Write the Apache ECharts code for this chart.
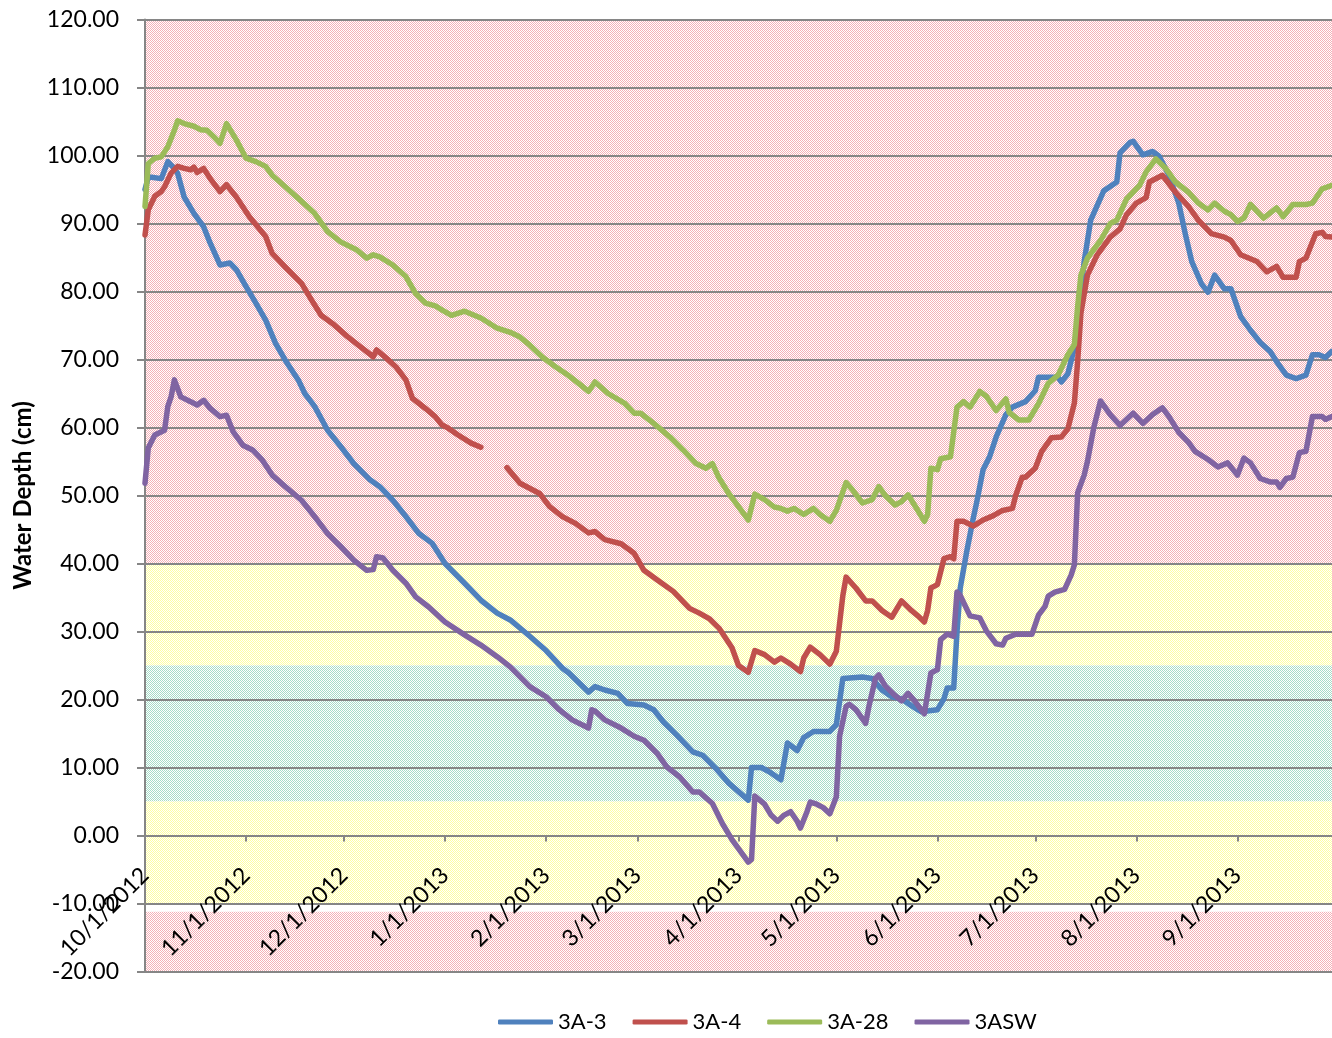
<!DOCTYPE html>
<html>
<head>
<meta charset="utf-8">
<script src="https://cdn.jsdelivr.net/npm/echarts@6/dist/echarts.min.js"></script>
<style>
html,body{margin:0;padding:0;background:#fff;}
#chart{width:1332px;height:1038px;}
</style>
</head>
<body>
<div id="chart"></div>
<script>
// ---- data (day offsets from 10/1/2012, water depth in cm) ----
const startYear = 2012, startMonth = 9, startDay = 1;
const endDayOffset = 364;

const seriesNames = ['3A-3', '3A-4', '3A-28', '3ASW'];

const days3A3 = [0,1,2,5,7,9,10,12,15,18,20,23,26,28,31,34,37,40,43,47,49,52,56,60,64,69,72,76,80,84,88,92,98,103,108,112,118,123,128,130,136,138,141,145,148,153,156,159,163,168,171,175,179,185,186,189,192,195,197,200,202,205,210,212,214,217,220,223,226,229,232,235,238,243,245,246,248,249,250,252,254,255,257,259,261,264,266,270,273,274,280,281,283,285,287,288,290,294,298,299,302,303,306,309,311,314,317,319,321,324,326,328,331,333,336,339,342,345,347,350,353,356,358,360,362,364];
const depth3A3 = [95,96.8,96.8,96.6,99.1,98.1,97.4,93.9,91.5,89.5,87.1,83.9,84.2,83.2,80.7,78.3,75.8,72.4,69.9,67.0,65.0,63.1,59.6,57.2,54.7,52.3,51.3,49.3,46.9,44.4,43.0,40.0,37.1,34.6,32.7,31.7,29.3,27.2,24.6,23.9,21.1,21.9,21.4,20.9,19.4,19.2,18.5,16.7,14.8,12.3,11.8,9.9,7.7,5.2,10.0,10.0,9.2,8.2,13.6,12.5,14.4,15.3,15.3,16.3,23.1,23.2,23.3,23.1,21.4,20.4,20.1,19.1,18.2,18.5,20.1,21.7,21.7,29.9,36.4,41.8,46.7,48.9,53.8,55.7,58.6,61.9,63.0,63.8,65.4,67.4,67.4,66.7,67.9,71.7,79.9,84.4,90.5,94.8,96.1,100.4,101.9,102.1,100.1,100.6,99.9,97.1,93.0,88.5,84.4,81.1,79.9,82.4,80.4,80.4,76.3,74.3,72.5,71.2,69.7,67.7,67.2,67.7,70.7,70.7,70.3,71.2];

const days3A4 = [0,1,3,5,6,8,10,12,14,15,16,18,20,23,25,28,32,37,39,43,48,51,54,58,62,66,70,71,74,77,80,82,86,89,91,93,96,100,103,107,111,115,121,124,128,132,136,138,141,146,150,153,157,162,167,170,173,176,180,182,185,187,190,193,195,198,201,202,204,207,210,212,214,215,218,221,223,226,229,232,235,237,239,240,241,243,245,247,248,249,251,254,257,260,263,266,267,269,270,273,275,278,281,283,285,286,287,289,292,296,299,301,304,307,308,312,316,320,323,327,331,333,336,341,344,347,349,353,354,356,359,361,362,364];
const depth3A4 = [88.3,92.0,94.0,94.7,95.4,97.4,98.4,98.1,97.9,98.3,97.5,98.1,96.6,94.7,95.7,93.9,91.0,88.1,85.6,83.6,81.2,78.8,76.5,75.1,73.4,71.9,70.4,71.4,70.2,68.9,67.0,64.3,62.8,61.6,60.4,59.9,58.9,57.7,57.1,null,54.1,51.8,50.3,48.4,46.9,45.9,44.5,44.7,43.5,42.9,41.5,39.0,37.6,35.9,33.4,32.7,31.9,30.5,27.6,25.0,24.0,27.2,26.6,25.5,26.1,25.2,24.1,26.1,27.7,26.6,25.2,27.1,35.3,38.0,36.4,34.5,34.5,33.1,32.1,34.5,33.1,32.3,31.4,33.1,36.4,36.9,40.7,41.0,40.7,46.2,46.2,45.5,46.4,47.0,47.8,48.1,50.0,52.7,52.7,54.0,56.5,58.5,58.6,59.8,63.6,69.7,76.8,82.4,85.4,88.0,89.2,91.3,93.0,93.8,96.1,97.1,94.6,92.5,90.5,88.5,88.0,87.5,85.4,84.4,82.9,83.7,82.1,82.1,84.4,84.9,88.5,88.7,88.1,88.0];

const days3A28 = [0,1,3,5,7,9,10,12,15,17,19,21,23,25,28,31,34,37,39,43,47,52,56,60,65,68,70,72,76,80,83,86,89,91,94,98,103,108,112,115,118,122,126,130,134,136,138,142,147,150,152,156,161,165,169,172,174,176,179,185,187,190,193,195,197,199,202,205,207,210,212,215,217,220,223,225,227,230,232,234,237,239,240,241,243,244,247,249,251,253,256,258,261,264,265,268,271,274,277,280,283,285,286,287,289,293,296,298,301,305,307,310,313,316,320,323,326,328,331,333,335,337,339,343,347,349,352,356,358,361,364];
const depth3A28 = [92.5,98.8,99.6,99.8,101.3,103.7,105.1,104.7,104.3,103.8,103.7,102.8,101.8,104.7,102.3,99.6,99.1,98.4,97.1,95.4,93.7,91.5,88.8,87.3,86.1,84.9,85.4,85.1,83.9,82.2,79.7,78.3,77.9,77.3,76.5,77.1,76.1,74.6,74.0,73.3,72.1,70.3,68.9,67.6,66.1,65.3,66.7,65.0,63.6,62.1,62.1,60.6,58.6,56.7,54.7,54.0,54.7,52.6,50.3,46.4,50.2,49.4,48.3,48.1,47.7,48.1,47.2,48.1,47.2,46.2,47.8,51.9,50.8,48.9,49.4,51.3,50.0,48.6,49.1,50.1,47.8,46.2,47.2,54.0,53.8,55.4,55.7,63.0,63.8,63.0,65.3,64.6,62.5,64.2,62.2,61.1,61.1,63.5,66.5,67.7,70.7,72.2,77.8,82.4,84.9,87.5,90.0,90.5,93.6,95.6,97.6,99.5,98.1,96.1,94.6,93.0,92.0,93.0,91.8,91.3,90.3,90.8,92.8,90.8,92.3,91.0,92.8,92.8,93.0,95.1,95.6];

const days3ASW = [0,1,3,6,7,8,9,11,14,16,18,20,23,25,27,30,33,36,39,43,48,52,56,60,64,68,70,71,73,76,80,83,87,92,98,103,108,112,118,123,127,131,136,137,138,141,146,150,153,157,160,164,168,170,174,177,180,185,186,187,190,192,194,196,198,200,201,203,204,206,208,210,212,213,215,216,218,221,222,224,225,227,230,232,234,236,239,241,243,244,246,248,249,250,253,256,258,261,263,264,267,269,272,274,276,277,279,282,284,285,286,288,289,291,293,296,299,303,306,309,312,314,317,320,322,326,329,332,335,337,339,342,345,347,348,350,352,354,356,358,361,362,364];
const depth3ASW = [51.8,57.0,58.9,59.6,63.1,64.5,67.0,64.5,63.8,63.3,64.0,62.8,61.6,61.8,59.4,57.4,56.7,55.2,53.0,51.3,49.3,46.9,44.4,42.5,40.5,39.0,39.1,41.0,40.8,39.0,37.1,35.1,33.6,31.4,29.5,28.0,26.3,24.8,21.9,20.4,18.5,17.0,15.8,18.5,18.3,17.0,15.8,14.6,14.0,12.1,10.1,8.6,6.4,6.4,4.7,1.8,-0.6,-3.9,-3.5,5.8,4.6,3.0,2.1,3.0,3.5,2.1,1.1,3.5,4.9,4.6,4.1,3.2,5.7,14.6,19.0,19.3,18.5,16.5,19.0,23.1,23.6,22.0,20.6,19.8,20.9,19.8,17.9,23.9,24.4,28.8,29.6,29.3,35.8,35.3,32.3,32.0,30.1,28.2,28.0,29.0,29.6,29.6,29.6,32.4,33.7,35.2,35.8,36.2,38.3,39.8,50.4,53.0,55.0,60.1,63.9,61.9,60.3,62.1,60.6,61.9,62.9,61.6,59.3,57.8,56.5,55.3,54.2,54.8,53.0,55.5,54.8,52.5,52.0,52.0,51.2,52.5,52.7,56.3,56.5,61.6,61.6,61.2,61.6];

// background zones (cm)
const bandLow  = [40, 25, 5, -10, -20];
const bandHigh = [120, 40, 25, 5, -11.2];
const bandKind = ['red', 'yellow', 'teal', 'yellow', 'red'];

const yMin = -20, yMax = 120, yStep = 10;

// ---- build ----
function dayToTime(d) { return new Date(startYear, startMonth, startDay + d).getTime(); }
function pairs(days, vals) { return days.map((d, i) => [dayToTime(d), vals[i]]); }

function makePattern(dot, base) {
  const c = document.createElement('canvas');
  c.width = 2; c.height = 2;
  const g = c.getContext('2d');
  g.fillStyle = base; g.fillRect(0, 0, 2, 2);
  g.fillStyle = dot; g.fillRect(0, 0, 1, 1); g.fillRect(1, 1, 1, 1);
  return { image: c, repeat: 'repeat' };
}
const patterns = {
  red: makePattern('#f5b0b7', '#ffffff'),
  yellow: makePattern('#ffffa0', '#ffffff'),
  teal: makePattern('#a6dcc8', '#ffffff')
};

const xMinT = dayToTime(0), xMaxT = dayToTime(endDayOffset);
const colors = ['#4f81bd', '#c0504d', '#9bbb59', '#8064a2'];
const FONT = 'Lato';

const gridTop = 19.5, gridBottom = 66.5, pageH = 1038;
const plotH = pageH - gridTop - gridBottom;
const zeroOffset = -plotH * (0 - yMin) / (yMax - yMin);

const lineSeries = [
  [days3A3, depth3A3], [days3A4, depth3A4], [days3A28, depth3A28], [days3ASW, depth3ASW]
].map((s, i) => ({
  name: seriesNames[i],
  type: 'line',
  data: pairs(s[0], s[1]),
  symbol: 'none',
  showSymbol: false,
  connectNulls: false,
  z: 3,
  lineStyle: { width: 5.5, color: colors[i], cap: 'round', join: 'round' },
  itemStyle: { color: colors[i] }
}));

const bandSeries = {
  type: 'custom',
  name: 'zones',
  silent: true,
  z: 1,
  clip: true,
  encode: { x: 0, y: [1, 2] },
  data: bandLow.map((lo, i) => [xMinT, lo, bandHigh[i], i]),
  renderItem: function (params, api) {
    const cs = params.coordSys;
    const yHi = api.coord([api.value(0), api.value(2)])[1];
    const yLo = api.coord([api.value(0), api.value(1)])[1];
    return {
      type: 'rect',
      shape: { x: cs.x, y: yHi, width: cs.width, height: yLo - yHi },
      style: { fill: patterns[bandKind[api.value(3)]] }
    };
  }
};

const chart = echarts.init(document.getElementById('chart'), null, { renderer: 'canvas' });
chart.setOption({
  animation: false,
  backgroundColor: '#ffffff',
  grid: { left: 145, right: 0, top: gridTop, bottom: gridBottom, containLabel: false, outerBoundsMode: 'none' },
  legend: {
    data: seriesNames,
    bottom: 0,
    left: 493,
    icon: 'roundRect',
    itemWidth: 55,
    itemHeight: 5,
    itemGap: 26,
    textStyle: { fontFamily: FONT, fontSize: 22, color: '#000' }
  },
  xAxis: {
    type: 'time',
    min: xMinT,
    max: xMaxT,
    z: 2,
    offset: zeroOffset,
    minInterval: 28 * 86400000,
    maxInterval: 31 * 86400000,
    axisLine: { onZero: false, lineStyle: { color: '#868686', width: 2 } },
    axisTick: { show: true, length: 6, lineStyle: { color: '#868686', width: 2 } },
    splitLine: { show: false },
    axisLabel: {
      rotate: 45,
      margin: 36,
      fontFamily: FONT,
      fontSize: 23,
      color: '#000',
      showMinLabel: true,
      showMaxLabel: false,
      hideOverlap: false,
      formatter: function (v) {
        const d = new Date(v);
        return (d.getMonth() + 1) + '/' + d.getDate() + '/' + d.getFullYear();
      }
    }
  },
  yAxis: {
    type: 'value',
    min: yMin,
    max: yMax,
    interval: yStep,
    z: 2,
    name: 'Water Depth (cm)',
    nameLocation: 'middle',
    nameGap: 110,
    nameTextStyle: { fontFamily: FONT, fontSize: 24, fontWeight: 'bold', color: '#000' },
    axisLine: { show: true, onZero: false, lineStyle: { color: '#868686', width: 2 } },
    axisTick: { show: true, length: 8, lineStyle: { color: '#868686', width: 2 } },
    splitLine: { show: true, lineStyle: { color: '#868686', width: 2 } },
    axisLabel: {
      margin: 26,
      fontFamily: FONT,
      fontSize: 23,
      color: '#000',
      formatter: function (v) { return v.toFixed(2); }
    }
  },
  series: [bandSeries].concat(lineSeries)
});
</script>
</body>
</html>
